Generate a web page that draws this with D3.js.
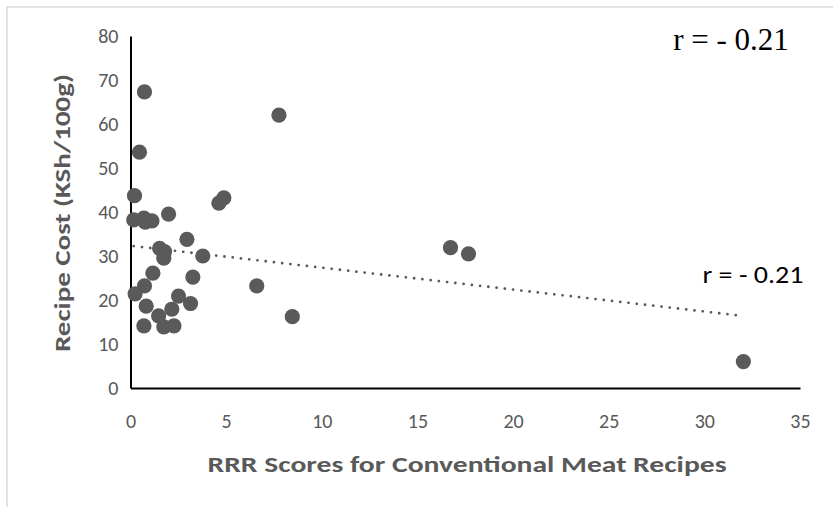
<!DOCTYPE html>
<html><head><meta charset="utf-8">
<script src="https://cdn.jsdelivr.net/npm/d3@7"></script>
<style>body{margin:0;background:#fff}</style>
</head><body>
<svg id="c" width="833" height="507"></svg>
<script>
// RRR scores (x) and recipe cost KSh/100g (y)
const rrrScores = [0.73,0.47,7.76,0.21,4.88,4.62,0.17,0.70,0.77,1.12,1.99,2.95,1.52,1.78,1.74,3.78,1.17,3.26,0.73,0.24,2.51,0.82,3.14,2.16,1.47,0.70,1.74,2.27,6.6,8.46,16.73,17.67,32.04];
const recipeCost = [67.3,53.6,62.0,43.7,43.2,42.0,38.2,38.6,37.7,38.0,39.5,33.8,31.75,31.0,29.5,30.0,26.1,25.2,23.2,21.4,20.9,18.6,19.2,17.9,16.4,14.1,13.9,14.1,23.2,16.2,31.9,30.5,6.0];
const xTicks = [0,5,10,15,20,25,30,35];
const yTicks = [0,10,20,30,40,50,60,70,80];
const rLabel = "r = - 0.21";
const xTitle = "RRR Scores for Conventional Meat Recipes";
const yTitle = "Recipe Cost (KSh/100g)";

const svg = d3.select("#c");
const grey = "#595959";
const font = "Carlito, Calibri, Lato, 'Open Sans', sans-serif";

// outer frame
svg.append("path").attr("d","M7,507V7H833").attr("fill","none").attr("stroke","#d9d9d9").attr("stroke-width",1.5);

const x = d3.scaleLinear().domain([0,35]).range([130.5,800]);
const y = d3.scaleLinear().domain([0,80]).range([388,36]);

const gx = svg.append("g").attr("transform","translate(0,388)")
  .call(d3.axisBottom(x).tickValues(xTicks).tickSize(0).tickSizeOuter(0).tickPadding(26));
const gy = svg.append("g").attr("transform","translate(130.5,0)")
  .call(d3.axisLeft(y).tickValues(yTicks).tickSize(0).tickSizeOuter(0).tickPadding(12));
[gx,gy].forEach(g=>{
  g.select(".domain").attr("stroke","#000").attr("stroke-width",2);
  g.selectAll("text").attr("fill",grey).style("font-family",font).style("font-size","20px");
});

// trendline (least squares from the data)
const n = rrrScores.length;
const mx = d3.mean(rrrScores), my = d3.mean(recipeCost);
let sxy=0,sxx=0;
for(let i=0;i<n;i++){sxy+=(rrrScores[i]-mx)*(recipeCost[i]-my);sxx+=(rrrScores[i]-mx)**2;}
const slope = sxy/sxx, icpt = my - slope*mx;
const [x0,x1] = d3.extent(rrrScores);
svg.append("line")
  .attr("x1",x(x0)).attr("y1",y(icpt+slope*x0))
  .attr("x2",x(x1)).attr("y2",y(icpt+slope*x1))
  .attr("stroke",grey).attr("stroke-width",2.8)
  .attr("stroke-linecap","round").attr("stroke-dasharray","0,8.3");

// points
svg.append("g").selectAll("circle").data(rrrScores).join("circle")
  .attr("cx",d=>x(d)).attr("cy",(d,i)=>y(recipeCost[i])).attr("r",7.6)
  .attr("fill","#5a5a5a");

// labels
svg.append("text").attr("x",731).attr("y",50).attr("text-anchor","middle")
  .style("font-family","'Liberation Serif','Times New Roman',serif").style("font-size","31px")
  .attr("fill","#000").text(rLabel);
svg.append("text").attr("x",753).attr("y",283).attr("text-anchor","middle")
  .style("font-family",font).style("font-size","24px")
  .attr("textLength",101).attr("lengthAdjust","spacingAndGlyphs")
  .attr("fill","#000").text(rLabel);

svg.append("text").attr("x",467).attr("y",472).attr("text-anchor","middle")
  .style("font-family",font).style("font-size","23px").style("font-weight","bold")
  .attr("textLength",519).attr("lengthAdjust","spacingAndGlyphs")
  .attr("fill",grey).text(xTitle);
svg.append("text").attr("transform","translate(70,213) rotate(-90)").attr("text-anchor","middle")
  .style("font-family",font).style("font-size","23px").style("font-weight","bold")
  .attr("textLength",278).attr("lengthAdjust","spacingAndGlyphs")
  .attr("fill",grey).text(yTitle);
</script>
</body></html>
